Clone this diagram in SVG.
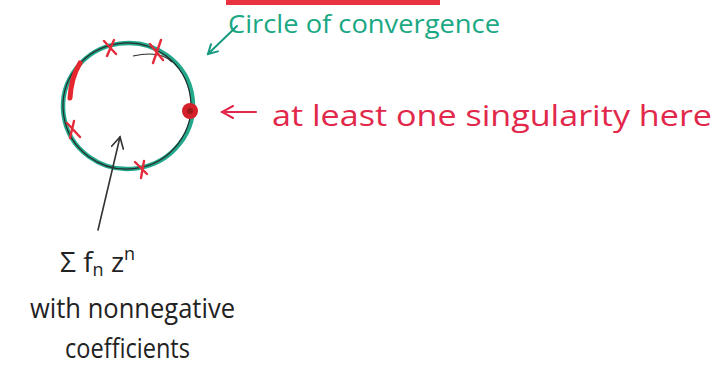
<svg xmlns="http://www.w3.org/2000/svg" width="720" height="372" viewBox="0 0 720 372">
  <defs>
    <style>
      .hand { font-family: "Open Sans", "Noto Sans", "DejaVu Sans", sans-serif; }
      .green { fill: #1aa883; }
      .red { fill: #e2284a; }
      .ink { fill: #222; }
      .cross { stroke: #e52b3a; stroke-width: 2.4; stroke-linecap: round; fill: none; }
    </style>
    <marker id="headGreen" viewBox="0 0 12 12" refX="10" refY="6" markerWidth="12" markerHeight="12" markerUnits="userSpaceOnUse" orient="auto">
      <path d="M1,1 L10,6 L1,11" fill="none" stroke="#179a80" stroke-width="2" stroke-linecap="round"/>
    </marker>
    <marker id="headRed" viewBox="0 0 14 14" refX="12" refY="7" markerWidth="14" markerHeight="14" markerUnits="userSpaceOnUse" orient="auto">
      <path d="M1,1 L12,7 L1,13" fill="none" stroke="#e2284a" stroke-width="2" stroke-linecap="round"/>
    </marker>
    <marker id="headInk" viewBox="0 0 14 14" refX="12" refY="7" markerWidth="14" markerHeight="14" markerUnits="userSpaceOnUse" orient="auto">
      <path d="M1,1 L12,7 L1,13" fill="none" stroke="#333" stroke-width="1.6" stroke-linecap="round"/>
    </marker>
  </defs>

  <rect width="720" height="372" fill="#ffffff"/>

  <!-- red marker stroke along the top edge -->
  <path d="M226,0 L440,0 L440,5 L226,5 Z" fill="#e8323f"/>

  <!-- the disc boundary with marked points -->
  <g id="circle">
    <ellipse cx="128" cy="106" rx="65" ry="63" fill="none" stroke="#22a98c" stroke-width="4.5" transform="rotate(-8 128 106)"/>
    <ellipse cx="127" cy="106" rx="64" ry="63" fill="none" stroke="#2a2a2a" stroke-width="1.2" transform="rotate(-8 127 106)"/>
    <path d="M133,56 Q160,50 172,62" fill="none" stroke="#2a2a2a" stroke-width="1.2"/>
    <!-- thick red arc on the left -->
    <path d="M80,63 Q71,78 70,98" fill="none" stroke="#e5262f" stroke-width="5" stroke-linecap="round"/>
    <!-- crosses -->
    <path class="cross" d="M104,41 L116,54 M114,40 L107,56"/>
    <path class="cross" d="M150,44 L163,60 M161,40 L153,63"/>
    <path class="cross" d="M67,123 L80,137 M74,121 L70,138"/>
    <path class="cross" d="M135,162 L147,174 M144,161 L141,178"/>
  </g>

  <!-- singular point -->
  <g id="singularity">
    <circle cx="190" cy="111" r="8" fill="#d4202a"/>
    <circle cx="190" cy="111" r="3" fill="#9a1a1a"/>
  </g>

  <g id="label-circle">
    <text class="hand green" x="228" y="33" font-size="26" textLength="272" lengthAdjust="spacingAndGlyphs">Circle of convergence</text>
  </g>

  <g id="label-singularity">
    <text class="hand red" x="272" y="126" font-size="30" textLength="440" lengthAdjust="spacingAndGlyphs">at least one singularity here</text>
  </g>

  <g id="label-series">
    <text class="hand ink" x="60" y="272" font-size="28">Σ f<tspan font-size="18" dy="4">n</tspan><tspan dy="-4"> z</tspan><tspan font-size="18" dy="-12">n</tspan></text>
    <text class="hand ink" x="30" y="318" font-size="27" textLength="205" lengthAdjust="spacingAndGlyphs">with nonnegative</text>
    <text class="hand ink" x="65" y="358" font-size="27" textLength="125" lengthAdjust="spacingAndGlyphs">coefficients</text>
  </g>

  <!-- pointers from labels to the figure -->
  <g id="connectors" fill="none" stroke-linecap="round">
    <path d="M237,26 L208,54" stroke="#179a80" stroke-width="2" marker-end="url(#headGreen)"/>
    <path d="M256,112 L222,112" stroke="#e2284a" stroke-width="2" marker-end="url(#headRed)"/>
    <path d="M98,230 L120,137" stroke="#333" stroke-width="1.6" marker-end="url(#headInk)"/>
  </g>
</svg>
